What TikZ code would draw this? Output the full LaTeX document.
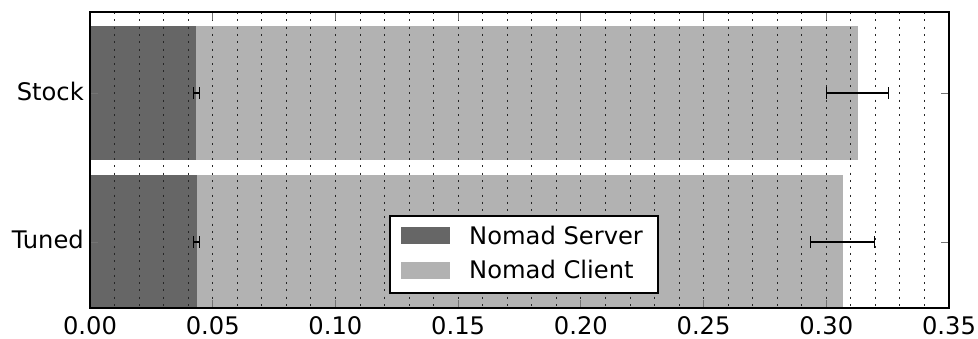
\documentclass[tikz,border=0pt]{standalone}
\usepackage{fontspec}
\setmainfont{DejaVu Sans}
\definecolor{srv}{gray}{0.4}
\definecolor{cli}{gray}{0.7}
\begin{document}
\begin{tikzpicture}[x=1pt,y=-1pt,
  lbl/.style={inner sep=0pt, font=\fontsize{24.2}{28}\selectfont},
  gridln/.style={black!85, line width=0.9pt, dash pattern=on 2pt off 5.3pt},
  tickln/.style={black!55, line width=1pt},
  errln/.style={black, line width=2pt},
  capln/.style={black, line width=1pt},
  frameln/.style={black, line width=1.6pt}]
\useasboundingbox (0,0) rectangle (978,338);
% bars
\fill[cli] (90,26) rectangle (857.7,160);
\fill[srv] (90,26) rectangle (195.7,160);
\fill[cli] (90,175) rectangle (842.7,308);
\fill[srv] (90,175) rectangle (196.7,308);
% grid
\foreach \i in {1,...,34}
  \draw[gridln] ({90+\i*24.543},12) -- ({90+\i*24.543},308);
% x ticks and labels
\foreach \i/\t in {0/0.00,1/0.05,2/0.10,3/0.15,4/0.20,5/0.25,6/0.30,7/0.35} {
  \draw[tickln] ({90+\i*122.714},308) -- ({90+\i*122.714},300);
  \draw[tickln] ({90+\i*122.714},12) -- ({90+\i*122.714},20);
  \node[lbl, anchor=base] (xt\i) at ({90+\i*122.714},334) {\t};
}
% y ticks and labels
\foreach \y in {93,242} {
  \draw[tickln] (90,\y) -- (98,\y);
  \draw[tickln] (949,\y) -- (941,\y);
}
\node[lbl, anchor=base east] (stock) at (84,100.7) {Stock};
\node[lbl, anchor=base east] (tuned) at (84,248.9) {Tuned};
% error bars
\foreach \a/\b/\y in {193.3/199/93, 193.6/199.3/242, 826/888.3/93, 810.3/874.7/242} {
  \draw[errln] (\a,\y) -- (\b,\y);
  \draw[capln] (\a,\y-6) -- (\a,\y+6);
  \draw[capln] (\b,\y-6) -- (\b,\y+6);
}
% frame
\draw[frameln] (90,12) rectangle (949,308);
% legend
\draw[frameln, fill=white] (390,216) rectangle (657.7,293);
\fill[srv] (400.7,226.7) rectangle (450,243.7);
\fill[cli] (400.7,261.7) rectangle (450,279.3);
\node[lbl, anchor=base west] (lserver) at (469,244.3) {Nomad Server};
\node[lbl, anchor=base west] (lclient) at (469,278.6) {Nomad Client};
\end{tikzpicture}
\end{document}
